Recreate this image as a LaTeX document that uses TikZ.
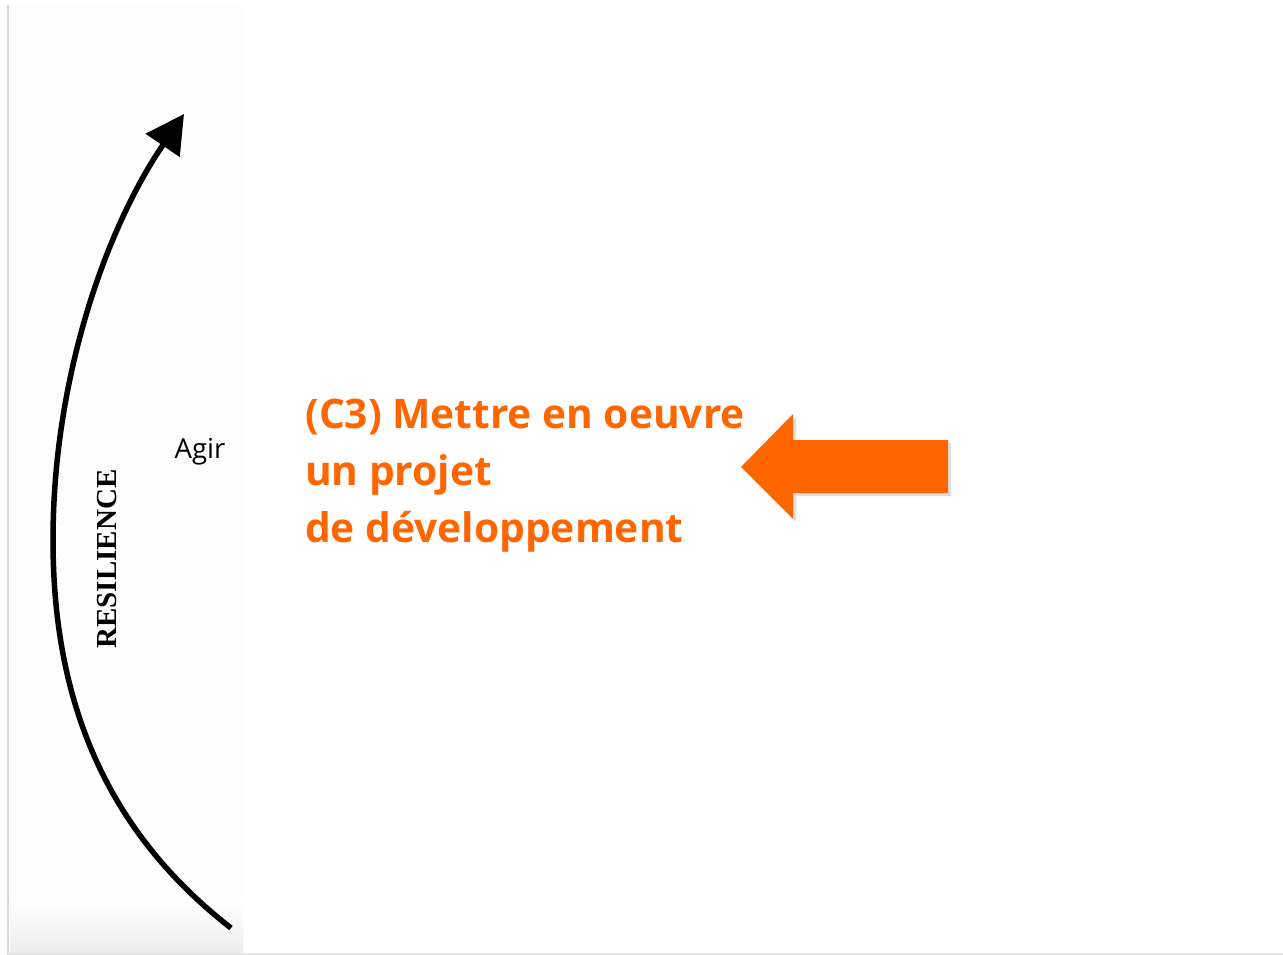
\documentclass[tikz,border=0pt]{standalone}
\usepackage{fontspec}
\setmainfont{Liberation Serif}
\newfontfamily\osans{Open Sans}
\usetikzlibrary{arrows.meta,shadings}
\definecolor{orng}{HTML}{FF6600}
\tikzset{
  curvearrow/.style={line width=5.5pt,-{Triangle[length=38pt,width=40pt]}},
  bigarrow/.style={fill=orng,draw=none},
  orangetext/.style={text=orng,font=\osans\bfseries\fontsize{40.7}{57}\selectfont,align=left,inner sep=0pt},
}
\begin{document}
\begin{tikzpicture}[x=1pt,y=-1pt]
\useasboundingbox (0,0) rectangle (1283,955);
\fill[white] (0,0) rectangle (1283,955);
% faint panel backgrounds
\fill[black!0.8] (10,5) rectangle (243,953);
\shade[top color=white,bottom color=black!7] (10,897) rectangle (243,953);
\draw[black!15,line width=1.2pt] (8,5) -- (8,955);
\draw[black!10,line width=2pt] (8,954) -- (1283,954);
% curved arrow
\coordinate (cstart) at (231,928);
\coordinate (cmid) at (53,540);
\coordinate (ctip) at (184,114);
\draw[curvearrow] (cstart) .. controls (105,830) and (53,700) .. (cmid)
                  .. controls (53,380) and (105,230) .. (ctip);
% labels
\node[font=\osans\fontsize{27.5}{30}\selectfont,inner sep=0pt] (agir) at (200,452) {Agir};
\node[font=\bfseries\fontsize{29}{32}\selectfont,rotate=90,inner sep=0pt] (resil) at (107,559) {RESILIENCE};
\node[orangetext,anchor=base west] (c3) at (305,542) {(C3) Mettre en oeuvre\\un projet\\de développement};
% orange block arrow
\fill[black!25,opacity=0.5] (744,470) -- (796,417) -- (796,443) -- (951,443) -- (951,496) -- (796,496) -- (796,522) -- cycle;
\fill[bigarrow] (741,467) -- (793,414) -- (793,440) -- (948,440) -- (948,493) -- (793,493) -- (793,519) -- cycle;
\end{tikzpicture}
\end{document}
